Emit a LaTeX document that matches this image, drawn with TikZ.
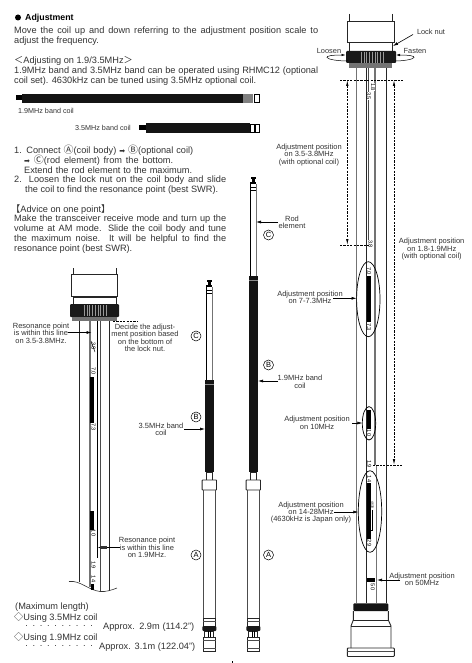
\documentclass[tikz,border=0pt]{standalone}
\usepackage{fontspec}
\setmainfont{Liberation Sans}
\newfontfamily\cjkfam{Noto Sans CJK JP}
\newfontfamily\djvfam{DejaVu Sans}
\usetikzlibrary{arrows.meta}
\definecolor{ink}{gray}{0.2}
\newcommand{\circA}{{\cjkfam\fontsize{10}{10}\selectfont Ⓐ}}
\newcommand{\circB}{{\cjkfam\fontsize{10}{10}\selectfont Ⓑ}}
\newcommand{\circC}{{\cjkfam\fontsize{10}{10}\selectfont Ⓒ}}
\newcommand{\rarr}{{\djvfam\fontsize{7}{7}\selectfont ➡}}
\newcommand{\fitw}[2]{\makebox[#1pt][s]{#2}}
\tikzset{
  bodytxt/.style={anchor=west,inner sep=0pt,text=ink,font=\fontsize{9.2}{10}\selectfont},
  note/.style={align=center,inner sep=0pt,text=ink,font=\fontsize{7.5}{7.4}\selectfont},
  smalltxt/.style={inner sep=0pt,text=ink,font=\fontsize{7.2}{7.4}\selectfont},
  marktxt/.style={rotate=-90,inner sep=0pt,text=black,font=\fontsize{5.6}{6}\selectfont},
  letter/.style={circle,draw=black,line width=.5pt,inner sep=0pt,minimum size=10pt,text=black,font=\fontsize{7.5}{8}\selectfont},
  pointer/.style={draw=black,line width=.6pt,-{Latex[length=5pt,width=3pt]}},
  gapline/.style={draw=black,line width=.7pt,dash pattern=on 2.2pt off 1.2pt},
  outline/.style={draw=black!85,line width=.7pt},
  greyline/.style={draw=black!55,line width=.8pt},
}
\newcommand{\nutstripes}[3]{%
  \foreach \k in {0,...,#3}{\draw[white!60!black,line width=.35pt] ({#1+(#2-#1)*\k/#3},0) -- ++(0,11);}
}
\newcommand{\lowermast}[1]{
  \begin{scope}[shift={(#1,0)}]
    \fill[black!92] (-4.3,470) rectangle (4.3,472);
    \draw[outline,fill=white] (-3,472) rectangle (3,480);
    \draw[outline,line width=.9pt,rounded corners=.6pt,fill=white] (-7.2,480) rectangle (7.2,490);
    \draw[outline,draw=black!70] (-6,490) -- (-6,618);
    \draw[outline,draw=black!70] (6,490) -- (6,618);
    \draw[outline,fill=white] (-6.2,618) rectangle (6.2,626);
    \draw[black!70,line width=.5pt] (-6.2,621) -- (6.2,621);
    \fill[black!90,rounded corners=1pt] (-7,626) rectangle (7,631);
    \draw[outline,fill=white] (-4.5,631) rectangle (4.5,637);
    \draw[black,line width=.7pt] (-1.3,631) -- (-1.3,637) (1.3,631) -- (1.3,637);
    \draw[outline,line width=.9pt,fill=white] (-6.2,637) rectangle (6.2,651);
    \draw[black!70,line width=.5pt] (-6.2,640) -- (6.2,640) (-6.2,648) -- (6.2,648);
  \end{scope}
}
\newcommand{\mastrod}[3]{%
  \begin{scope}[shift={(#1,0)}]
    \fill[black] (-2.4,#2) rectangle (2.4,#2+2);
    \fill[black] (-1.4,#2+2) rectangle (1.4,#2+5);
    \fill[black] (-3,#2+5) rectangle (3,#2+7);
    \fill[black] (-3,#2+7) rectangle (-2,#2+13);
    \draw[black,line width=.4pt] (-3,#2+10) -- (3,#2+10) (-3,#2+13) -- (3,#2+13);
    \draw[black,line width=.9pt] (-2.7,#2+7) -- (-2.7,#3);
    \draw[black!55,line width=1pt] (2.8,#2+7) -- (2.8,#3);
    \fill[black!92] (-4.3,#3) rectangle (4.3,470);
    \draw[black!45,line width=.4pt] (-4.3,#3+4) -- (4.3,#3+4);
  \end{scope}
}
\begin{document}
\begin{tikzpicture}[x=1pt,y=-1pt]
\useasboundingbox (0,0) rectangle (471,663);
\fill[white] (0,0) rectangle (471,663);

% ---- text column
\fill[black] (18,17.5) circle (3pt);
\node[bodytxt,text=black,font=\fontsize{8.8}{10}\bfseries] (title) at (25,18) {Adjustment};
\node[bodytxt] (t1) at (14,31) {\fitw{304}{Move the coil up and down referring to the adjustment position scale to}};
\node[bodytxt] (t2) at (14,41) {adjust the frequency.};
\node[bodytxt] (t3) at (14,61) {{\cjkfam ＜}Adjusting on 1.9/3.5MHz{\cjkfam ＞}};
\node[bodytxt] (t4) at (14,71) {\fitw{304}{1.9MHz band and 3.5MHz band can be operated using RHMC12 (optional}};
\node[bodytxt] (t5) at (14,81) {\fitw{242}{coil set). 4630kHz can be tuned using 3.5MHz optional coil.}};

% the two loose coils
\fill[black] (16,95.5) rectangle (22,100.5);
\fill[black!92] (22,94) rectangle (243,103);
\fill[black!50] (243,94) rectangle (253,103);
\draw[black,line width=.7pt,fill=white] (254.5,94.5) rectangle (259.5,102.5);
\node[smalltxt,anchor=west] (coilA) at (18,110.5) {1.9MHz band coil};
\node[smalltxt,anchor=west] (coilB) at (75,128) {3.5MHz band coil};
\fill[black] (139,125.5) rectangle (146,130);
\fill[black!92] (146,123.5) rectangle (250,133);
\draw[black,line width=.7pt,fill=white] (250.5,124) rectangle (254,132.5);
\draw[black,line width=.7pt,fill=white] (255,124) rectangle (259,132.5);

\node[bodytxt] (t6) at (14,150) {\fitw{179}{1. Connect \circA(coil body) \rarr\ \circB(optional coil)}};
\node[bodytxt] (t7) at (24,160) {\fitw{149}{\rarr\ \circC(rod element) from the bottom.}};
\node[bodytxt] (t8) at (24,170) {\fitw{168}{Extend the rod element to the maximum.}};
\node[bodytxt] (t9) at (14,180) {\fitw{212}{2. Loosen the lock nut on the coil body and slide}};
\node[bodytxt] (t10) at (25,190) {\fitw{193}{the coil to find the resonance point (best SWR).}};
\node[bodytxt] (t11) at (11,210) {{\cjkfam 【}Advice on one point{\cjkfam 】}};
\node[bodytxt] (t12) at (14,219.5) {\fitw{212}{Make the transceiver receive mode and turn up the}};
\node[bodytxt] (t13) at (14,229.5) {\fitw{212}{volume at AM mode. Slide the coil body and tune}};
\node[bodytxt] (t14) at (14,239.5) {\fitw{212}{the maximum noise. It will be helpful to find the}};
\node[bodytxt] (t15) at (14,249.5) {resonance point (best SWR).};

% ---- left cut-away of the coil
\draw[outline] (73,268) -- (73,274) (116,268) -- (116,274);
\draw[outline,fill=white] (71.5,274) rectangle (117.5,296);
\draw[outline,fill=white] (73,297) rectangle (116,304);
\fill[black!90,rounded corners=1pt] (70,304) rectangle (119,317);
\begin{scope}[shift={(0,305)}]\nutstripes{84}{106}{8}\end{scope}
\fill[black!55] (72,317) rectangle (117,321);
\draw[outline] (79.5,321) -- (79.5,582);
\draw[outline] (109.5,321) -- (109.5,591);
\draw[greyline,line width=1.6pt] (90,321) -- (90,587);
\draw[black,line width=.8pt] (97,321) -- (97,558);
\draw[black!70,line width=.7pt] (100,321) -- (100,592);
\draw[black!80,line width=.6pt] (69,581.5) .. controls (80,580) and (88,590) .. (100,591.5) .. controls (106,592) and (112,590) .. (117,588);
\fill[black] (90,377) rectangle (94,423);
\fill[black] (90,511) rectangle (94,530);
\fill[black] (90.5,584) rectangle (94,590);
\foreach \nm/\yy/\tx in {ma/346/3.8,mb/371/7.0,mc/427/7.3,md/533/10,me/565/1.9,mf/579/14}
  \node[marktxt,fill=white,inner sep=.3pt] (\nm) at (93.5,\yy) {\tx};
\draw[black,line width=.5pt] (91,341) -- (95,352);

\node[note] (res1) at (41,333) {Resonance point\\is within this line\\on 3.5-3.8MHz.};
\coordinate (res1a) at (68,332.5); \coordinate (res1b) at (91.5,332.5);
\draw[pointer] (res1a) -- (res1b);
\coordinate (dec1) at (113,321); \coordinate (dec2) at (138,321);
\draw[gapline] (dec1) -- (dec2);
\node[note] (dec) at (145,338) {Decide the adjust-\\ment position based\\on the bottom of\\the lock nut.};
\node[note] (res2) at (147,547.5) {Resonance point\\is within this line\\on 1.9MHz.};
\coordinate (res2a) at (120,547.5); \coordinate (res2b) at (97.5,547.5);
\draw[pointer] (res2a) -- (res2b);
\fill[black!80] (100,546.3) rectangle (107,548.7);

\node[bodytxt] (max) at (15,607) {(Maximum length)};
\node[bodytxt] (u1) at (14,617) {{\cjkfam ◇}Using 3.5MHz coil};
\node[bodytxt] (u2) at (14,637) {{\cjkfam ◇}Using 1.9MHz coil};
\node[bodytxt] (d1) at (25,627) {\fitw{68}{· · · · · · · · · ·}};
\node[bodytxt] (d2) at (25,647) {\fitw{68}{· · · · · · · · · ·}};
\node[bodytxt] (a1) at (103,627) {\fitw{91}{Approx. 2.9m (114.2")}};
\node[bodytxt] (a2) at (99,647) {\fitw{96}{Approx. 3.1m (122.04")}};

% ---- two assembled antennas
\mastrod{209.3}{280}{380}
\lowermast{209.3}
\mastrod{253.3}{177}{276}
\lowermast{253.3}

\node[letter] (c1) at (196,336) {C};
\node[letter] (b1) at (196,417) {B};
\node[letter] (a1c) at (196,555) {A};
\node[letter] (c2) at (268.5,235) {C};
\node[letter] (b2) at (268.5,365) {B};
\node[letter] (a2c) at (268.5,555) {A};

\node[note] (l35) at (161,429.5) {3.5MHz band\\coil};
\coordinate (l35a) at (184,429); \coordinate (l35b) at (205,429);
\draw[pointer] (l35a) -- (l35b);
\node[note] (lrod) at (292,222.5) {Rod\\element};
\coordinate (lroda) at (278,222); \coordinate (lrodb) at (256,222);
\draw[pointer] (lroda) -- (lrodb);
\node[note] (l19) at (300,382) {1.9MHz band\\coil};
\coordinate (l19a) at (278,381); \coordinate (l19b) at (258,381);
\draw[pointer] (l19a) -- (l19b);

% ---- right coil with scale
\draw[outline] (349.5,14) -- (349.5,21) (392.5,14) -- (392.5,21);
\draw[outline,fill=white] (347.5,21) rectangle (394,42);
\draw[outline,fill=white] (349.5,42.5) rectangle (392.5,51);
\fill[black!90,rounded corners=1pt] (346,51) rectangle (396,63);
\begin{scope}[shift={(0,52)}]\nutstripes{361}{383}{8}\end{scope}
\fill[black!55] (349,63) rectangle (392,68);
\draw[greyline] (356,68) -- (356,603);
\draw[outline] (366,68) -- (366,603);
\draw[black!70,line width=.6pt] (368.3,68) -- (368.3,246);
\draw[greyline,line width=2.4pt] (375,68) -- (375,465);
\draw[greyline] (376,465) -- (376,603);
\draw[outline] (386,68) -- (386,603);

\fill[black] (367,276) rectangle (371,322);
\fill[black] (367,410) rectangle (371,429);
\fill[black] (367,482.7) rectangle (371,539);
\draw[black,line width=.4pt] (372.3,510) -- (372.3,530) -- (371,530);
\fill[black] (367,578.3) rectangle (375,582);
\foreach \nm/\xx/\yy/\tx in {sa/368.9/96/3.5,sb/373/87/1.8,sc/370.5/244/3.8,sd/369/271/7.0,se/369/327/7.3,sf/369/433/10,sg/369.3/464/1.9,sh/369.3/479/14,si/369.3/543/29,sj/372.7/587/50}
  \node[marktxt,fill=white,inner sep=.3pt] (\nm) at (\xx,\yy) {\tx};
\node[marktxt,font=\fontsize{3.2}{4}\selectfont] (sk) at (372.5,505) {4630};

% base
\fill[black!92,rounded corners=1pt] (353.3,603.3) rectangle (388.3,611);
\draw[outline,line width=.9pt] (353.3,611) -- (353.3,620) -- (351,626) -- (351,648) (388.3,611) -- (388.3,620) -- (391,626) -- (391,648);
\draw[outline] (353.3,620) -- (388.3,620) (351,626) -- (391,626);
\draw[outline,line width=.9pt,rounded corners=.8pt] (347.3,648) rectangle (394.3,656.5);
\draw[black!70,line width=.5pt] (347.3,651) -- (394.3,651);

% ellipses
\draw[black,line width=.7pt] (368.3,299.2) ellipse [x radius=11.7,y radius=37.5];
\draw[black,line width=.7pt] (369,423.3) ellipse [x radius=6.7,y radius=16.7];
\draw[black,line width=.7pt] (370,511.5) ellipse [x radius=11.7,y radius=40.8];

% lock nut and rotation arrows
\node[smalltxt,font=\fontsize{7.4}{7}\selectfont] (lock) at (431,32) {Lock nut};
\coordinate (locka) at (413,34.5); \coordinate (lockb) at (393,46);
\draw[pointer] (locka) -- (lockb);
\node[smalltxt,font=\fontsize{7.4}{7}\selectfont] (loos) at (329,51) {Loosen};
\node[smalltxt,font=\fontsize{7.4}{7}\selectfont] (fast) at (415,51) {Fasten};
\coordinate (rl1) at (345.5,55); \coordinate (rl2) at (348,61);
\coordinate (rr1) at (396,55); \coordinate (rr2) at (395,61);
\draw[draw=black,line width=.5pt,{Latex[length=4pt,width=2.5pt]}-] (rl1) .. controls (332,55) and (326,56) .. (327,57.5) .. controls (328,59.5) and (338,61) .. (rl2);
\draw[draw=black,line width=.5pt,{Latex[length=4pt,width=2.5pt]}-] (rr1) .. controls (409,55) and (415,56) .. (414,57.5) .. controls (413,59.5) and (403,61) .. (rr2);

% dashed dimension lines
\coordinate (h1a) at (340,80); \coordinate (h1b) at (403,80);
\draw[gapline] (h1a) -- (h1b);
\coordinate (h2a) at (340,245); \coordinate (h2b) at (370,245);
\draw[gapline] (h2a) -- (h2b);
\coordinate (h3a) at (373,465); \coordinate (h3b) at (403,465);
\draw[gapline] (h3a) -- (h3b);
\coordinate (v1t) at (347.3,80); \coordinate (v1b) at (347.3,245);
\coordinate (v2t) at (394,80); \coordinate (v2b) at (394,465);
\draw[gapline,{Latex[length=6pt,width=2.5pt]}-{Latex[length=6pt,width=2.5pt]}] (v1t) -- (v1b);
\draw[gapline,{Latex[length=6pt,width=2.5pt]}-{Latex[length=6pt,width=2.5pt]}] (v2t) -- (v2b);

% right-side notes
\node[note] (n1) at (309,155) {Adjustment position\\on 3.5-3.8MHz\\(with optional coil)};
\node[note] (n2) at (431.7,249.3) {Adjustment position\\on 1.8-1.9MHz\\(with optional coil)};
\node[note] (n3) at (310,297.5) {Adjustment position\\on 7-7.3MHz};
\coordinate (n3a) at (333,298.3); \coordinate (n3b) at (356.5,298.3);
\draw[pointer] (n3a) -- (n3b);
\node[note] (n4) at (317,423) {Adjustment position\\on 10MHz};
\coordinate (n4a) at (352.3,423); \coordinate (n4b) at (362.3,423);
\draw[pointer] (n4a) -- (n4b);
\node[note] (n5) at (311,512.5) {Adjustment position\\on 14-28MHz\\(4630kHz is Japan only)};
\coordinate (n5a) at (334,512); \coordinate (n5b) at (358.3,512);
\draw[pointer] (n5a) -- (n5b);
\node[note] (n6) at (422,579.5) {Adjustment position\\on 50MHz};
\coordinate (n6a) at (400,580); \coordinate (n6b) at (377,580);
\draw[pointer] (n6a) -- (n6b);

\coordinate (pga) at (232.7,661); \coordinate (pgb) at (232.7,663);
\draw[black,line width=.7pt] (pga) -- (pgb);
\end{tikzpicture}
\end{document}
